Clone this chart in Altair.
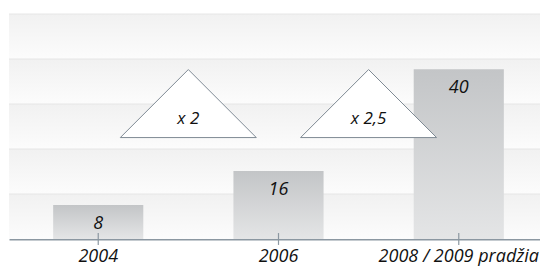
import altair as alt
import pandas as pd

# ---- data ----
categories = ["2004", "2006", "2008 / 2009 pradžia"]
values = [8, 16, 40]
tri_from = ["2004", "2006"]
tri_labels = ["x 2", "x 2,5"]
tri_level = [31.9, 31.9]
band_edges = [0, 10.6, 21.2, 31.8, 42.4, 53]
tick_span = [-1.4, 1.4]
y_max = 53

bars_df = pd.DataFrame({"cat": categories, "val": values})
tri_df = pd.DataFrame({"cat": tri_from, "label": tri_labels, "level": tri_level})
bands_df = pd.DataFrame({"lo": band_edges[:-1], "hi": band_edges[1:]})
tick_df = pd.DataFrame({"cat": categories,
                        "t0": [tick_span[0]] * len(categories),
                        "t1": [tick_span[1]] * len(categories)})

FONT = "Open Sans"
x_scale = alt.Scale(domain=categories, paddingInner=0.5, paddingOuter=0.245)
y_scale = alt.Scale(domain=[0, y_max], nice=False, zero=True)

band_grad = alt.Gradient(
    gradient="linear",
    stops=[alt.GradientStop(color="#f1f1f1", offset=0),
           alt.GradientStop(color="#fcfcfc", offset=1)],
    x1=0, x2=0, y1=0, y2=1,
)
bar_grad = alt.Gradient(
    gradient="linear",
    stops=[alt.GradientStop(color="#c3c5c7", offset=0),
           alt.GradientStop(color="#e4e5e6", offset=1)],
    x1=0, x2=0, y1=0, y2=1,
)

bands = alt.Chart(bands_df).mark_rect(color=band_grad).encode(
    y=alt.Y("lo:Q", scale=y_scale, axis=None),
    y2="hi:Q",
)
band_lines = alt.Chart(bands_df).mark_rule(color="#e6e6e6", strokeWidth=1).encode(
    y=alt.Y("hi:Q", scale=y_scale, axis=None),
)

x_axis = alt.Axis(
    title=None, ticks=False, domain=True, domainColor="#8b97a1", domainWidth=2,
    labelFont=FONT, labelFontSize=18, labelFontStyle="italic", labelColor="#111111",
    labelAngle=0, labelPadding=8, grid=False,
)

bars = alt.Chart(bars_df).mark_bar(color=bar_grad).encode(
    x=alt.X("cat:N", scale=x_scale, axis=x_axis, sort=categories),
    y=alt.Y("val:Q", scale=y_scale, axis=None),
)
bar_text = alt.Chart(bars_df).mark_text(
    font=FONT, fontSize=18, fontStyle="italic", color="#111111",
    baseline="middle", dy=19,
).encode(
    x=alt.X("cat:N", scale=x_scale, sort=categories),
    y=alt.Y("val:Q", scale=y_scale),
    text="val:Q",
)
ticks = alt.Chart(tick_df).mark_rule(strokeWidth=1.2, color="#8b97a1").encode(
    x=alt.X("cat:N", scale=x_scale, sort=categories),
    y=alt.Y("t0:Q", scale=y_scale),
    y2="t1:Q",
)

triangles = alt.Chart(tri_df).mark_point(
    shape="M-1,0.5L0,-0.5L1,0.5Z", size=18496, filled=True, color="white",
    stroke="#7f8a94", strokeWidth=1, opacity=1, fillOpacity=1, xOffset=45,
).encode(
    x=alt.X("cat:N", scale=x_scale, sort=categories, bandPosition=1),
    y=alt.Y("level:Q", scale=y_scale),
)
tri_text = alt.Chart(tri_df).mark_text(
    font=FONT, fontSize=17, fontStyle="italic", color="#111111",
    baseline="middle", dy=15, xOffset=45,
).encode(
    x=alt.X("cat:N", scale=x_scale, sort=categories, bandPosition=1),
    y=alt.Y("level:Q", scale=y_scale),
    text="label:N",
)

chart = alt.layer(
    bands, band_lines, bars, ticks, bar_text, triangles, tri_text
).properties(
    width=539, height=225,
    autosize=alt.AutoSizeParams(type="none"),
    padding={"left": 1, "top": 6, "right": -8, "bottom": 30},
    background="white",
).configure_view(stroke=None)

chart.save("out.html", embed_options={"renderer": "svg", "actions": False})
